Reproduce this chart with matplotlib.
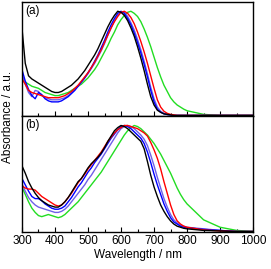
import matplotlib
matplotlib.use("Agg")
import matplotlib.pyplot as plt
from matplotlib.ticker import MultipleLocator

plt.rcParams['font.family'] = ['Liberation Sans', 'DejaVu Sans']

# wavelength grid (nm)
wl = list(range(300, 810, 10)) + [850, 900, 950, 1000]

# panel (a), normalised absorbance
a_black = [0.84, 0.50, 0.38, 0.35, 0.33, 0.31, 0.29, 0.27, 0.25, 0.23,
           0.22, 0.22, 0.23, 0.25, 0.27, 0.29, 0.32, 0.35, 0.39, 0.43,
           0.48, 0.53, 0.58, 0.64, 0.71, 0.78, 0.85, 0.91, 0.96, 1.00,
           0.99, 0.96, 0.91, 0.84, 0.76, 0.66, 0.55, 0.43, 0.30, 0.18,
           0.10, 0.05, 0.03, 0.015, 0.01, 0.005, 0.0, 0.0, 0.0, 0.0,
           0.0, 0.0, 0.0, 0.0, 0.0]
a_blue = [0.44, 0.33, 0.25, 0.19, 0.16, 0.22, 0.20, 0.16, 0.14, 0.13,
          0.13, 0.13, 0.14, 0.16, 0.18, 0.21, 0.24, 0.28, 0.32, 0.36,
          0.41, 0.46, 0.52, 0.58, 0.65, 0.72, 0.80, 0.87, 0.93, 0.98,
          1.00, 0.98, 0.93, 0.87, 0.79, 0.70, 0.60, 0.49, 0.37, 0.24,
          0.13, 0.06, 0.03, 0.015, 0.008, 0.004, 0.0, 0.0, 0.0, 0.0,
          0.0, 0.0, 0.0, 0.0, 0.0]
a_violet = [0.40, 0.30, 0.22, 0.18, 0.24, 0.23, 0.19, 0.17, 0.16, 0.15,
            0.15, 0.15, 0.16, 0.17, 0.19, 0.22, 0.25, 0.28, 0.32, 0.36,
            0.40, 0.45, 0.50, 0.56, 0.62, 0.69, 0.77, 0.84, 0.91, 0.96,
            0.99, 0.99, 0.95, 0.89, 0.82, 0.73, 0.63, 0.52, 0.40, 0.27,
            0.16, 0.08, 0.04, 0.02, 0.01, 0.005, 0.0, 0.0, 0.0, 0.0,
            0.0, 0.0, 0.0, 0.0, 0.0]
a_red = [0.35, 0.30, 0.24, 0.22, 0.21, 0.20, 0.19, 0.18, 0.17, 0.17,
         0.17, 0.17, 0.18, 0.19, 0.21, 0.23, 0.26, 0.29, 0.33, 0.37,
         0.41, 0.46, 0.51, 0.57, 0.63, 0.70, 0.77, 0.84, 0.90, 0.95,
         0.99, 1.00, 0.98, 0.94, 0.88, 0.80, 0.71, 0.61, 0.50, 0.38,
         0.26, 0.15, 0.08, 0.04, 0.02, 0.01, 0.005, 0.0, 0.0, 0.0,
         0.0, 0.0, 0.0, 0.0, 0.0]
a_green = [0.35, 0.32, 0.30, 0.28, 0.27, 0.26, 0.24, 0.22, 0.21, 0.20,
           0.19, 0.19, 0.20, 0.21, 0.22, 0.24, 0.26, 0.28, 0.30, 0.33,
           0.36, 0.40, 0.44, 0.49, 0.55, 0.61, 0.67, 0.74, 0.80, 0.87,
           0.92, 0.96, 0.99, 1.00, 0.98, 0.95, 0.90, 0.83, 0.75, 0.66,
           0.56, 0.46, 0.37, 0.29, 0.23, 0.17, 0.13, 0.10, 0.08, 0.06,
           0.045, 0.01, 0.0, 0.0, 0.0]

# panel (b), normalised absorbance
b_black = [0.62, 0.55, 0.47, 0.41, 0.36, 0.32, 0.29, 0.27, 0.25, 0.24,
           0.23, 0.23, 0.25, 0.28, 0.32, 0.37, 0.42, 0.47, 0.50, 0.55,
           0.60, 0.64, 0.67, 0.70, 0.74, 0.79, 0.85, 0.90, 0.95, 0.98,
           1.00, 0.99, 0.97, 0.94, 0.91, 0.88, 0.85, 0.78, 0.66, 0.53,
           0.42, 0.33, 0.25, 0.19, 0.14, 0.10, 0.07, 0.05, 0.04, 0.03,
           0.025, 0.01, 0.005, 0.0, 0.0]
b_blue = [0.50, 0.44, 0.38, 0.33, 0.31, 0.31, 0.29, 0.26, 0.24, 0.22,
          0.21, 0.21, 0.22, 0.24, 0.28, 0.32, 0.37, 0.42, 0.46, 0.51,
          0.56, 0.60, 0.65, 0.69, 0.73, 0.78, 0.83, 0.88, 0.92, 0.96,
          0.99, 1.00, 0.99, 0.97, 0.94, 0.91, 0.88, 0.83, 0.75, 0.65,
          0.54, 0.44, 0.35, 0.26, 0.19, 0.13, 0.09, 0.07, 0.05, 0.04,
          0.035, 0.02, 0.01, 0.0, 0.0]
b_violet = [0.45, 0.38, 0.32, 0.28, 0.25, 0.23, 0.22, 0.21, 0.20, 0.19,
            0.18, 0.18, 0.19, 0.21, 0.24, 0.28, 0.32, 0.36, 0.40, 0.44,
            0.49, 0.53, 0.58, 0.63, 0.68, 0.73, 0.78, 0.83, 0.88, 0.93,
            0.97, 0.99, 1.00, 0.99, 0.97, 0.94, 0.91, 0.87, 0.81, 0.72,
            0.62, 0.51, 0.41, 0.31, 0.23, 0.16, 0.11, 0.08, 0.06, 0.05,
            0.04, 0.025, 0.01, 0.0, 0.0]
b_red = [0.43, 0.41, 0.40, 0.40, 0.39, 0.36, 0.33, 0.31, 0.29, 0.27,
         0.25, 0.24, 0.25, 0.28, 0.32, 0.36, 0.41, 0.46, 0.50, 0.54,
         0.59, 0.63, 0.67, 0.71, 0.75, 0.80, 0.85, 0.89, 0.93, 0.96,
         0.98, 1.00, 1.00, 0.99, 0.98, 0.97, 0.95, 0.93, 0.90, 0.84,
         0.77, 0.69, 0.59, 0.47, 0.36, 0.25, 0.16, 0.10, 0.07, 0.05,
         0.04, 0.015, 0.005, 0.0, 0.0]
b_green = [0.42, 0.35, 0.28, 0.22, 0.18, 0.15, 0.14, 0.15, 0.16, 0.15,
           0.14, 0.13, 0.14, 0.16, 0.19, 0.22, 0.25, 0.28, 0.32, 0.36,
           0.40, 0.44, 0.48, 0.52, 0.56, 0.61, 0.66, 0.71, 0.76, 0.81,
           0.86, 0.91, 0.95, 0.98, 1.00, 0.99, 0.97, 0.94, 0.91, 0.87,
           0.83, 0.78, 0.73, 0.67, 0.61, 0.55, 0.48, 0.41, 0.35, 0.30,
           0.26, 0.11, 0.04, 0.01, 0.0]

colors = ['#000000', '#ff0000', '#0000ff', '#7060e8', '#22dd22']
panels = [
    ('(a)', [a_black, a_red, a_blue, a_violet, a_green]),
    ('(b)', [b_black, b_red, b_blue, b_violet, b_green]),
]

fig = plt.figure(figsize=(2.71, 2.69), dpi=100)
boxes = [[0.081, 0.569, 0.853, 0.424], [0.081, 0.1375, 0.853, 0.4315]]

for i, (label, series) in enumerate(panels):
    ax = fig.add_axes(boxes[i])
    # draw green first so the darker lines sit on top
    for ys, c in reversed(list(zip(series, colors))):
        ax.plot(wl, ys, color=c, lw=1.0)
    ax.set_xlim(300, 1000)
    ax.set_ylim(-0.005, 1.09)
    ax.set_yticks([])
    ax.xaxis.set_major_locator(MultipleLocator(100))
    ax.xaxis.set_minor_locator(MultipleLocator(50))
    ax.tick_params(axis='x', which='major', direction='in', length=3.5,
                   width=0.8, labelsize=8.5, pad=2.5)
    ax.tick_params(axis='x', which='minor', direction='in', length=2,
                   width=0.8)
    for s in ax.spines.values():
        s.set_linewidth(1.0)
    ax.text(0.015, 0.97, label, transform=ax.transAxes, fontsize=8.5,
            va='top', ha='left')
    if i == 0:
        ax.tick_params(axis='x', labelbottom=False)
    else:
        ax.set_xlabel('Wavelength / nm', fontsize=8.5, labelpad=1)

fig.text(0.03, 0.565, 'Absorbance / a.u.', rotation=90, fontsize=8.5,
         ha='center', va='center')

fig.savefig('out.png', dpi=100)
